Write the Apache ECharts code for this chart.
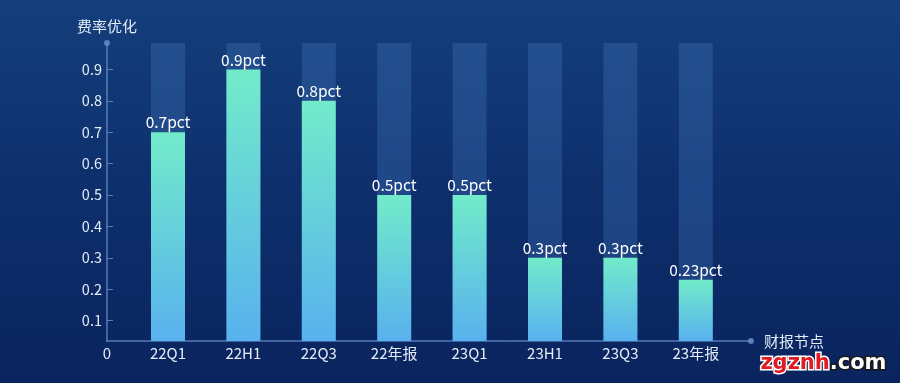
<!DOCTYPE html>
<html><head><meta charset="utf-8">
<script src="https://cdn.jsdelivr.net/npm/echarts@6/dist/echarts.min.js"></script>
<style>
html,body{margin:0;padding:0;width:900px;height:383px;overflow:hidden;
background:linear-gradient(180deg,#143f7c 0%,#0d2f6c 50%,#0a245e 100%);}
#c{width:900px;height:383px;}
</style></head><body><div id="c"></div>
<script>
const categories = ['22Q1','22H1','22Q3','22年报','23Q1','23H1','23Q3','23年报'];
const values = [0.7, 0.9, 0.8, 0.5, 0.5, 0.3, 0.3, 0.23];
const yTicks = [0.1,0.2,0.3,0.4,0.5,0.6,0.7,0.8,0.9];
const originLabel = [0];
const yName = '费率优化';
const xName = '财报节点';

const FONT = '"Noto Sans CJK SC","Noto Sans",sans-serif';
const AXIS = 'rgba(110,150,210,0.75)';
const TXT = '#e4ecf7';

const chart = echarts.init(document.getElementById('c'), null, {renderer:'canvas'});
chart.setOption({
  backgroundColor: 'transparent',
  animation: false,
  textStyle: {fontFamily: FONT},
  grid: [
    {left: 107, right: 149, top: 43, bottom: 42},
    {left: 130.3, right: 166.5, top: 43, bottom: 42}
  ],
  xAxis: [
    {gridIndex: 0, type: 'value', min: 0, max: 1,
     axisLine: {show: true, lineStyle: {color: AXIS, width: 1.5}, symbol: ['none','circle'], symbolSize: [6,6]},
     axisTick: {show: false}, splitLine: {show: false},
     axisLabel: {customValues: originLabel, color: TXT, fontSize: 15, margin: 5, fontFamily: FONT},
     name: xName, nameLocation: 'end', nameGap: 13,
     nameTextStyle: {color: TXT, fontSize: 15, fontFamily: FONT}},
    {gridIndex: 1, type: 'category', data: categories,
     axisLine: {show: false}, axisTick: {show: false},
     axisLabel: {color: TXT, fontSize: 15, margin: 5, fontFamily: FONT}}
  ],
  yAxis: [
    {gridIndex: 0, type: 'value', min: 0, max: 1,
     axisLine: {show: true, lineStyle: {color: AXIS, width: 1.5}, symbol: ['none','circle'], symbolSize: [6,6]},
     axisTick: {show: false}, axisLabel: {show: false}, splitLine: {show: false},
     name: yName, nameLocation: 'end', nameGap: 9,
     nameTextStyle: {color: TXT, fontSize: 15, fontFamily: FONT}},
    {gridIndex: 1, type: 'value', min: 0.035, max: 0.984, offset: 23.3,
     axisLine: {show: false}, splitLine: {show: false},
     axisTick: {show: true, inside: true, length: 6, customValues: yTicks, lineStyle: {color: AXIS, width: 1}},
     axisLabel: {customValues: yTicks, color: TXT, fontSize: 14.5, margin: 5, fontFamily: FONT}}
  ],
  series: [{
    type: 'bar', xAxisIndex: 1, yAxisIndex: 1,
    data: values, barWidth: 34,
    showBackground: true,
    backgroundStyle: {color: 'rgba(70,120,190,0.32)'},
    itemStyle: {color: new echarts.graphic.LinearGradient(0,0,0,1,[
      {offset: 0, color: '#72ebca'}, {offset: 1, color: '#58b1ee'}])},
    label: {show: true, position: 'top', distance: 2, color: '#ffffff', fontSize: 15.5,
      fontFamily: FONT, formatter: p => p.value + 'pct'}
  }],
  graphic: [{
    type: 'text', right: 12, bottom: 7, z: 100,
    style: {
      text: '{a|zgznh}{b|.com}',
      rich: {
        a: {fontSize: 21, fontWeight: 'bold', fontFamily: '"DejaVu Sans"', fill: '#e01b22', stroke: '#ffffff', lineWidth: 3},
        b: {fontSize: 21, fontWeight: 'bold', fontFamily: '"DejaVu Sans"', fill: '#ffffff', stroke: '#1a1a1a', lineWidth: 3}
      }
    }
  }]
});
</script></body></html>
